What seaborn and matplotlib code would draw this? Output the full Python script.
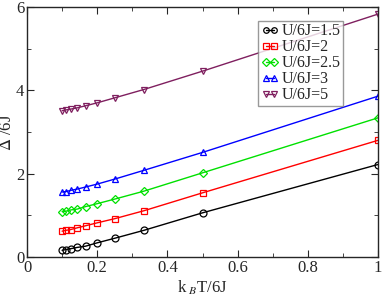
import numpy as np
import pandas as pd
import matplotlib
matplotlib.use('Agg')
import matplotlib.pyplot as plt
import seaborn as sns
from matplotlib.ticker import MultipleLocator

# temperatures k_B T / 6J
kT = [0.1, 0.111, 0.125, 0.143, 0.167, 0.2, 0.25, 0.333, 0.5, 1.0]

gap_15 = [0.16, 0.18, 0.20, 0.23, 0.26, 0.34, 0.45, 0.64, 1.06, 2.22]
gap_2 = [0.62, 0.64, 0.66, 0.70, 0.75, 0.82, 0.92, 1.11, 1.54, 2.80]
gap_25 = [1.09, 1.10, 1.13, 1.15, 1.21, 1.28, 1.39, 1.58, 2.02, 3.34]
gap_3 = [1.56, 1.57, 1.60, 1.63, 1.68, 1.75, 1.87, 2.08, 2.51, 3.86]
gap_5 = [3.51, 3.53, 3.55, 3.58, 3.63, 3.70, 3.82, 4.02, 4.46, 5.83]

labels = ['U/6J=1.5', 'U/6J=2', 'U/6J=2.5', 'U/6J=3', 'U/6J=5']
colors = ['black', 'red', '#00e000', 'blue', '#7f1f5f']
markers = ['o', 's', 'D', '^', 'v']

rows = []
for lab, vals in zip(labels, [gap_15, gap_2, gap_25, gap_3, gap_5]):
    for x, y in zip(kT, vals):
        rows.append((lab, x, y))
df = pd.DataFrame(rows, columns=['U', 'kT', 'gap'])

sns.set_style('ticks')
plt.rcParams['font.family'] = ['Liberation Serif', 'DejaVu Serif']
plt.rcParams['mathtext.fontset'] = 'stix'

fig = plt.figure(figsize=(3.82, 2.96), dpi=100)
ax = fig.add_axes([27/382, 1 - 257/296, 351/382, 250/296])

sns.lineplot(data=df, x='kT', y='gap', hue='U', style='U', hue_order=labels,
             palette=colors, markers=markers, dashes=False, ax=ax, lw=1,
             markersize=5, markerfacecolor='none', markeredgewidth=0.9)
for line, c, m in zip(ax.lines, colors, markers):
    line.set_markeredgecolor(c)
    if m == 'D':
        line.set_markersize(4.2)

ax.set_xlim(0, 1)
ax.set_ylim(0, 6)
ax.xaxis.set_minor_locator(MultipleLocator(0.1))
ax.yaxis.set_major_locator(MultipleLocator(2))
ax.yaxis.set_minor_locator(MultipleLocator(1))
ax.set_xticks([0, 0.2, 0.4, 0.6, 0.8, 1.0])
ax.set_xticklabels(['0', '0.2', '0.4', '0.6', '0.8', '1'])
ax.tick_params(which='both', direction='in', top=True, right=True, labelsize=12)
ax.tick_params(which='major', length=5, pad=2)
ax.tick_params(which='minor', length=3)
ax.set_xlabel(r'k$_{\ B}$T/6J', fontsize=12)
ax.set_ylabel(r'$\Delta$ /6J', fontsize=12)
ax.xaxis.set_label_coords(0.5, -0.085)
ax.yaxis.set_label_coords(-0.035, 0.5)
for s in ax.spines.values():
    s.set_linewidth(1)

leg = ax.legend(loc='upper right', bbox_to_anchor=(0.9, 0.945), fontsize=11.5,
                frameon=True, fancybox=False, handlelength=1.1, handletextpad=0.2,
                borderpad=0.15, labelspacing=0.0, borderaxespad=0, numpoints=2)
leg.get_frame().set_edgecolor('gray')
leg.get_frame().set_linewidth(1)
for h, c in zip(leg.legend_handles, colors):
    h.set_markeredgecolor(c)
    h.set_markerfacecolor('none')
    h.set_markersize(4)

fig.savefig('out.png', dpi=100)
